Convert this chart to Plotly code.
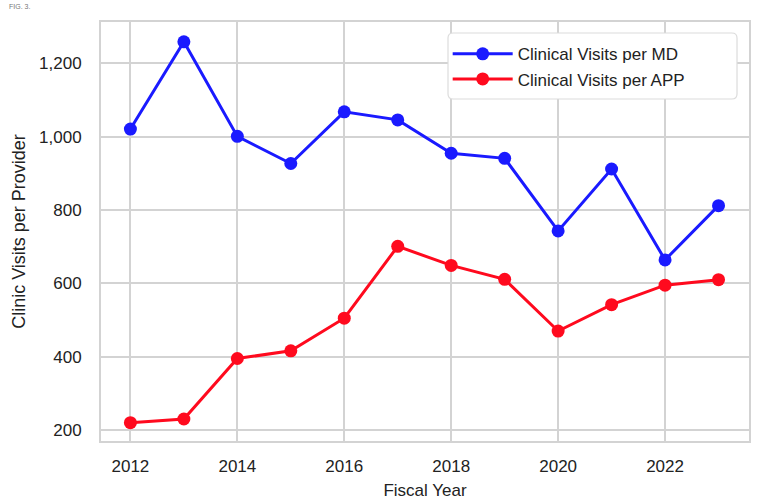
import plotly.graph_objects as go

years = [2012, 2013, 2014, 2015, 2016, 2017, 2018, 2019, 2020, 2021, 2022, 2023]
md_visits = [1021, 1259, 1001, 927, 1068, 1046, 955, 941, 743, 912, 664, 812]
app_visits = [220, 230, 395, 416, 505, 701, 649, 611, 470, 542, 595, 610]
x_ticks = [2012, 2014, 2016, 2018, 2020, 2022]
y_ticks = [200, 400, 600, 800, 1000, 1200]
y_tick_labels = ["200", "400", "600", "800", "1,000", "1,200"]

font = "Liberation Sans, Arial, sans-serif"

fig = go.Figure()
fig.add_trace(go.Scatter(x=years, y=md_visits, mode="lines+markers",
                         name="Clinical Visits per MD",
                         line=dict(color="#1a1aff", width=3),
                         marker=dict(color="#1a1aff", size=13)))
fig.add_trace(go.Scatter(x=years, y=app_visits, mode="lines+markers",
                         name="Clinical Visits per APP",
                         line=dict(color="#ff0a1e", width=3),
                         marker=dict(color="#ff0a1e", size=13)))

axis_common = dict(showgrid=True, gridcolor="#d3d3d3", gridwidth=1.5,
                   showline=True, linecolor="#d3d3d3", linewidth=2, mirror=True,
                   zeroline=False, automargin=False,
                   ticks="outside", tickcolor="rgba(0,0,0,0)",
                   tickfont=dict(size=17, color="#222", family=font))

fig.update_layout(
    width=758, height=502,
    margin=dict(l=101, r=9, t=22, b=61),
    paper_bgcolor="white", plot_bgcolor="white",
    font=dict(family=font, color="#222"),
    xaxis=dict(range=[2011.45, 2023.57], tickvals=x_ticks, ticklen=9,
               title=dict(text="Fiscal Year", font=dict(size=17), standoff=9),
               **axis_common),
    yaxis=dict(range=[170, 1313], tickvals=y_ticks, ticktext=y_tick_labels, ticklen=14,
               title=dict(text="Clinic Visits per Provider", font=dict(size=18), standoff=9),
               **axis_common),
    legend=dict(x=0.535, y=0.966, xanchor="left", yanchor="top",
                bgcolor="rgba(0,0,0,0)", borderwidth=0,
                font=dict(size=17, color="#222"), itemwidth=60,
                tracegroupgap=0),
    showlegend=True,
)

# rounded legend frame (paper coordinates)
x0, x1, y0, y1 = 0.5355, 0.9815, 0.8162, 0.9737
rx, ry = 0.008, 0.012
path = (f"M {x0+rx},{y1} L {x1-rx},{y1} Q {x1},{y1} {x1},{y1-ry} "
        f"L {x1},{y0+ry} Q {x1},{y0} {x1-rx},{y0} L {x0+rx},{y0} "
        f"Q {x0},{y0} {x0},{y0+ry} L {x0},{y1-ry} Q {x0},{y1} {x0+rx},{y1} Z")
fig.add_shape(type="path", path=path, xref="paper", yref="paper",
              fillcolor="white", line=dict(color="#dcdcdc", width=1.2), layer="above")

fig.add_annotation(text="FIG. 3.", xref="paper", yref="paper", x=-0.145, y=1.036,
                   xanchor="left", yanchor="middle", showarrow=False,
                   font=dict(size=7, color="#777", family=font))

fig.write_html("out.html", config={"displayModeBar": False},
               post_script="document.body.style.margin='0';")
